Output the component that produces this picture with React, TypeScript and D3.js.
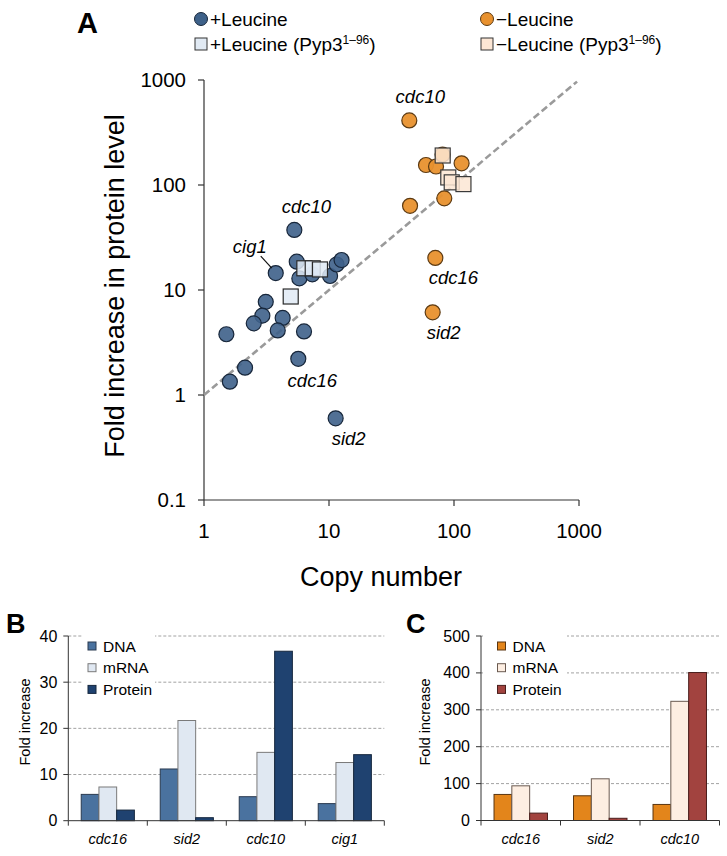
import React from 'react';
import * as d3 from 'd3';

// ---------- Panel A data: [copy number, fold increase in protein] ----------
const plusLeucine: [number, number][] = [
  [5.28, 37.3], // cdc10
  [3.75, 14.5], // cig1
  [5.68, 2.21], // cdc16
  [11.3, 0.6], // sid2
  [5.52, 18.6],
  [5.79, 12.9],
  [7.35, 14.1],
  [10.2, 13.6],
  [11.5, 17.5],
  [12.6, 19.3],
  [3.12, 7.71],
  [2.93, 5.7],
  [2.5, 4.81],
  [4.26, 5.42],
  [3.89, 4.12],
  [6.31, 4.03],
  [1.51, 3.79],
  [2.13, 1.82],
  [1.61, 1.34],
];
const plusLeucinePyp3: [number, number][] = [
  [6.35, 16.1],
  [7.41, 16.1],
  [8.47, 15.7],
  [4.94, 8.67],
];
const minusLeucine: [number, number][] = [
  [43.9, 412], // cdc10
  [70.9, 20.2], // cdc16
  [67.5, 6.13], // sid2
  [59.7, 155],
  [71.8, 150],
  [115, 161],
  [44.5, 63.4],
  [83.6, 74.6],
  [81, 195],
];
const minusLeucinePyp3: [number, number][] = [
  [81.2, 191],
  [90, 118],
  [95.9, 106],
  [119, 102],
];
const logTicks = [0.1, 1, 10, 100, 1000];
const xLogTicks = [1, 10, 100, 1000];

// labelled genes: [name, copy, fold, group]
const geneLabels: [string, number, number, string][] = [
  ['cdc10', 5.28, 37.3, 'plus'],
  ['cig1', 3.75, 14.5, 'plus'],
  ['cdc16', 5.68, 2.21, 'plus'],
  ['sid2', 11.3, 0.6, 'plus'],
  ['cdc10', 43.9, 412, 'minus'],
  ['cdc16', 70.9, 20.2, 'minus'],
  ['sid2', 67.5, 6.13, 'minus'],
];

// ---------- Panel B ----------
const genesB = ['cdc16', 'sid2', 'cdc10', 'cig1'];
const dnaB = [5.7, 11.2, 5.2, 3.7];
const mrnaB = [7.3, 21.7, 14.8, 12.6];
const proteinB = [2.3, 0.65, 36.7, 14.3];
const ticksB = [0, 10, 20, 30, 40];

// ---------- Panel C ----------
const genesC = ['cdc16', 'sid2', 'cdc10'];
const dnaC = [70.6, 67, 43.5];
const mrnaC = [94, 113, 323];
const proteinC = [20, 6, 401];
const ticksC = [0, 100, 200, 300, 400, 500];

const seriesNames = ['DNA', 'mRNA', 'Protein'];

const FONT = 'Liberation Sans, Arial, Helvetica, sans-serif';

const labelOffsets: Record<string, [number, number]> = {
  'plus-cdc10': [12, -17],
  'plus-cig1': [-26, -20],
  'plus-cdc16': [14, 28],
  'plus-sid2': [13, 27],
  'minus-cdc10': [11, -17],
  'minus-cdc16': [18, 26],
  'minus-sid2': [11, 27],
};

function BarPanel(props: {
  genes: string[];
  series: number[][];
  ticks: number[];
  x0: number;
  x1: number;
  y0: number;
  y1: number;
  colors: string[];
  strokes: string[];
  letter: string;
  letterX: number;
  legendBox: [number, number];
  legendX: number;
  titleX: number;
}) {
  const { genes, series, ticks, x0, x1, y0, y1, colors, strokes } = props;
  const xb = d3.scaleBand().domain(genes).range([x0, x1]);
  const xs = d3.scaleBand().domain(seriesNames).range([0, xb.bandwidth()]).paddingOuter(0.73);
  const y = d3.scaleLinear().domain([0, ticks[ticks.length - 1]]).range([y0, y1]);
  const edges = genes.map((g) => xb(g) as number).concat([x1]);
  return (
    <g>
      <text x={props.letterX} y={633} fontFamily={FONT} fontWeight="bold" fontSize={27}>
        {props.letter}
      </text>
      {ticks.slice(1).map((t) => (
        <line key={t} x1={x0} x2={x1} y1={y(t)} y2={y(t)} stroke="#8a8a8a" strokeWidth={0.8} strokeDasharray="3,2" />
      ))}
      <rect x={props.legendBox[0]} y={628} width={props.legendBox[1] - props.legendBox[0]} height={72} fill="#fff" />
      {genes.map((g, gi) =>
        series.map((s, si) => (
          <rect
            key={g + si}
            x={(xb(g) as number) + (xs(seriesNames[si]) as number)}
            y={y(s[gi])}
            width={xs.bandwidth()}
            height={y0 - y(s[gi])}
            fill={colors[si]}
            stroke={strokes[si]}
            strokeWidth={1}
          />
        ))
      )}
      <line x1={x0} x2={x0} y1={y1} y2={y0} stroke="#333" strokeWidth={1} />
      <line x1={x0} x2={x1} y1={y0} y2={y0} stroke="#333" strokeWidth={1} />
      {ticks.map((t) => (
        <g key={t}>
          <line x1={x0 - 5} x2={x0} y1={y(t)} y2={y(t)} stroke="#333" strokeWidth={1} />
          <text x={x0 - 11} y={y(t) + 5.5} textAnchor="end" fontFamily={FONT} fontSize={16}>
            {t}
          </text>
        </g>
      ))}
      {edges.map((e, i) => (
        <line key={i} x1={e} x2={e} y1={y0} y2={y0 + 5} stroke="#333" strokeWidth={1} />
      ))}
      {genes.map((g) => (
        <text
          key={g}
          x={(xb(g) as number) + xb.bandwidth() / 2}
          y={844}
          textAnchor="middle"
          fontFamily={FONT}
          fontStyle="italic"
          fontSize={14.5}
        >
          {g}
        </text>
      ))}
      <text
        transform={`translate(${props.titleX},722) rotate(-90)`}
        textAnchor="middle"
        fontFamily={FONT}
        fontSize={14.5}
        dy={5}
      >
        Fold increase
      </text>
      {seriesNames.map((n, i) => (
        <g key={n}>
          <rect
            x={props.legendX}
            y={646 + i * 21.7 - 4}
            width={8}
            height={8}
            fill={colors[i]}
            stroke={strokes[i]}
            strokeWidth={1}
          />
          <text x={props.legendX + 15} y={646 + i * 21.7 + 5.5} fontFamily={FONT} fontSize={15.5}>
            {n}
          </text>
        </g>
      ))}
    </g>
  );
}

export default function App() {
  const x = d3.scaleLog().domain([1, 1000]).range([204, 579]);
  const y = d3.scaleLog().domain([0.1, 1000]).range([500, 80]);
  const r = 7.5;
  const sq = 15;
  const blue = '#3e6189';
  const blueStroke = '#17263a';
  const orange = '#e8912e';
  const orangeStroke = '#5c3a12';

  const cig = geneLabels[1];
  const cigX = x(cig[1]);
  const cigY = y(cig[2]);

  return (
    <svg width={727} height={856} style={{ position: 'absolute', left: 0, top: 0, background: '#fff' }}>
      {/* Panel A */}
      <text x={77} y={33} fontFamily={FONT} fontWeight="bold" fontSize={29}>
        A
      </text>
      {/* legend */}
      <circle cx={201} cy={19} r={6.5} fill={blue} stroke={blueStroke} strokeWidth={1} />
      <text x={210} y={26} fontFamily={FONT} fontSize={19}>
        +Leucine
      </text>
      <rect x={195} y={38} width={12} height={12} fill="#e1eaf4" stroke="#333" strokeWidth={1} />
      <text x={210} y={51} fontFamily={FONT} fontSize={19}>
        +Leucine (Pyp3
        <tspan dy={-7} fontSize={12}>
          1–96
        </tspan>
        <tspan dy={7}>)</tspan>
      </text>
      <circle cx={487} cy={19} r={6.5} fill={orange} stroke={orangeStroke} strokeWidth={1} />
      <text x={496} y={26} fontFamily={FONT} fontSize={19}>
        −Leucine
      </text>
      <rect x={481} y={38} width={12} height={12} fill="#fce6d4" stroke="#333" strokeWidth={1} />
      <text x={496} y={51} fontFamily={FONT} fontSize={19}>
        −Leucine (Pyp3
        <tspan dy={-7} fontSize={12}>
          1–96
        </tspan>
        <tspan dy={7}>)</tspan>
      </text>

      {/* axes */}
      <line x1={204} x2={204} y1={80} y2={500} stroke="#333" strokeWidth={1.2} />
      <line x1={204} x2={579} y1={500} y2={500} stroke="#333" strokeWidth={1.2} />
      {logTicks.map((t) => (
        <g key={t}>
          <line x1={198} x2={204} y1={y(t)} y2={y(t)} stroke="#333" strokeWidth={1.2} />
          <text x={186} y={y(t) + 7} textAnchor="end" fontFamily={FONT} fontSize={20.5}>
            {t}
          </text>
        </g>
      ))}
      {xLogTicks.map((t) => (
        <g key={t}>
          <line x1={x(t)} x2={x(t)} y1={500} y2={506} stroke="#333" strokeWidth={1.2} />
          <text x={x(t)} y={538} textAnchor="middle" fontFamily={FONT} fontSize={20.5}>
            {t}
          </text>
        </g>
      ))}
      <text x={381} y={586} textAnchor="middle" fontFamily={FONT} fontSize={27}>
        Copy number
      </text>
      <text
        transform="translate(115,286) rotate(-90)"
        textAnchor="middle"
        dy={9}
        fontFamily={FONT}
        fontSize={27}
      >
        Fold increase in protein level
      </text>

      {/* y = x reference line */}
      <line x1={x(1)} y1={y(1)} x2={x(965)} y2={y(965)} stroke="#9a9a9a" strokeWidth={2.6} strokeDasharray="7,3.5" />

      {/* points */}
      {plusLeucine.map((d, i) => (
        <circle key={'pl' + i} cx={x(d[0])} cy={y(d[1])} r={r} fill={blue} fillOpacity={0.9} stroke={blueStroke} strokeWidth={1.2} />
      ))}
      {plusLeucinePyp3.map((d, i) => (
        <rect
          key={'pp' + i}
          x={x(d[0]) - sq / 2}
          y={y(d[1]) - sq / 2}
          width={sq}
          height={sq}
          fill="#e1eaf4"
          fillOpacity={0.85}
          stroke="#2a2a2a"
          strokeWidth={1.2}
        />
      ))}
      {minusLeucine.map((d, i) => (
        <circle key={'ml' + i} cx={x(d[0])} cy={y(d[1])} r={r} fill={orange} fillOpacity={0.95} stroke={orangeStroke} strokeWidth={1.2} />
      ))}
      {minusLeucinePyp3.map((d, i) => (
        <rect
          key={'mp' + i}
          x={x(d[0]) - sq / 2}
          y={y(d[1]) - sq / 2}
          width={sq}
          height={sq}
          fill="#fce6d4"
          fillOpacity={0.85}
          stroke="#3a3a3a"
          strokeWidth={1.2}
        />
      ))}

      {/* gene labels */}
      {geneLabels.map((g, i) => {
        const off = labelOffsets[g[3] + '-' + g[0]];
        return (
          <text
            key={i}
            x={x(g[1]) + off[0]}
            y={y(g[2]) + off[1]}
            textAnchor="middle"
            fontFamily={FONT}
            fontStyle="italic"
            fontSize={18.5}
          >
            {g[0]}
          </text>
        );
      })}
      <line x1={cigX - 15} y1={cigY - 17} x2={cigX - 4} y2={cigY - 5} stroke="#111" strokeWidth={1.2} />

      {/* Panel B */}
      <BarPanel
        genes={genesB}
        series={[dnaB, mrnaB, proteinB]}
        ticks={ticksB}
        x0={68.3}
        x1={384.3}
        y0={820.7}
        y1={636}
        colors={['#4a729f', '#e0e8f2', '#1f4270']}
        strokes={['#2a3a50', '#7a7a7a', '#15263d']}
        letter="B"
        letterX={6}
        legendBox={[82, 155]}
        legendX={88}
        titleX={25}
      />
      {/* Panel C */}
      <BarPanel
        genes={genesC}
        series={[dnaC, mrnaC, proteinC]}
        ticks={ticksC}
        x0={481}
        x1={719.5}
        y0={820.5}
        y1={636}
        colors={['#e3851b', '#fdeee2', '#a2433f']}
        strokes={['#5a3510', '#6a5a50', '#4a1e1c']}
        letter="C"
        letterX={406}
        legendBox={[483, 567]}
        legendX={497.5}
        titleX={425}
      />
    </svg>
  );
}
